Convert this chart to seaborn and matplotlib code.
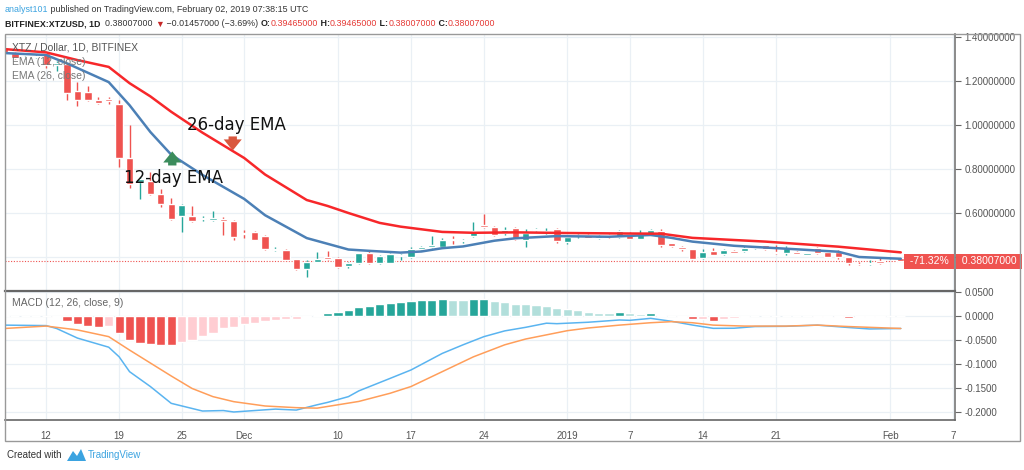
import numpy as np
import pandas as pd
import matplotlib
matplotlib.use("Agg")
import matplotlib.pyplot as plt
import matplotlib.transforms as mtransforms
from matplotlib.patches import Rectangle, Polygon
import seaborn as sns

# daily candles XTZ/USD, 2018-11-08 .. 2019-02-02
start = pd.Timestamp("2018-11-08")
days = pd.date_range(start, "2019-02-02", freq="D")

opens = [1.35, 1.326, 1.304, 1.308, 1.326, 1.272, 1.276, 1.155, 1.149, 1.114, 1.12, 1.095, 0.849, 0.742, 0.747, 0.685,
         0.64, 0.588, 0.588, 0.572, 0.566, 0.571, 0.564,
         0.509, 0.514, 0.497, 0.434, 0.432, 0.39, 0.345, 0.379, 0.40, 0.397, 0.36, 0.373, 0.418, 0.373, 0.373, 0.403,
         0.40, 0.437, 0.446, 0.445, 0.482, 0.471, 0.497, 0.547, 0.538, 0.508, 0.532, 0.478, 0.524, 0.514, 0.526,
         0.466, 0.495, 0.50, 0.487, 0.501, 0.49, 0.505, 0.483, 0.496, 0.52, 0.462, 0.446, 0.435, 0.394, 0.428, 0.412,
         0.425, 0.427, 0.44, 0.453, 0.424, 0.42, 0.423, 0.41, 0.443, 0.424, 0.421, 0.398, 0.37, 0.367, 0.383,
         0.394, 0.39465]
highs = [1.36, 1.33, 1.315, 1.322, 1.33, 1.29, 1.28, 1.197, 1.179, 1.127, 1.125, 1.114, 1.0, 0.765, 0.788, 0.708,
         0.67, 0.64, 0.633, 0.586, 0.609, 0.583, 0.568,
         0.523, 0.518, 0.50, 0.445, 0.436, 0.392, 0.385, 0.424, 0.427, 0.40, 0.378, 0.42, 0.432, 0.41, 0.416, 0.413,
         0.447, 0.45, 0.497, 0.485, 0.495, 0.482, 0.558, 0.595, 0.542, 0.538, 0.537, 0.527, 0.533, 0.53, 0.53,
         0.492, 0.506, 0.505, 0.50, 0.505, 0.522, 0.512, 0.523, 0.526, 0.527, 0.465, 0.448, 0.438, 0.435, 0.44, 0.435,
         0.432, 0.45, 0.452, 0.456, 0.455, 0.45, 0.428, 0.42, 0.447, 0.428, 0.43, 0.40, 0.375, 0.386, 0.394,
         0.396, 0.39465]
lows = [1.32, 1.30, 1.30, 1.305, 1.258, 1.245, 1.114, 1.088, 1.11, 1.094, 1.095, 0.81, 0.712, 0.662, 0.684, 0.629,
        0.568, 0.512, 0.56, 0.562, 0.564, 0.50, 0.477,
        0.487, 0.475, 0.43, 0.425, 0.38, 0.34, 0.31, 0.376, 0.386, 0.35, 0.352, 0.37, 0.37, 0.366, 0.372, 0.387,
        0.395, 0.432, 0.44, 0.442, 0.46, 0.462, 0.49, 0.53, 0.497, 0.50, 0.478, 0.444, 0.52, 0.505, 0.465,
        0.46, 0.485, 0.485, 0.483, 0.487, 0.488, 0.48, 0.48, 0.494, 0.447, 0.447, 0.425, 0.386, 0.39, 0.408, 0.41,
        0.416, 0.424, 0.438, 0.434, 0.415, 0.41, 0.412, 0.408, 0.415, 0.398, 0.392, 0.364, 0.362, 0.365, 0.37,
        0.392, 0.38007]
closes = [1.327, 1.306, 1.308, 1.312, 1.273, 1.282, 1.144, 1.114, 1.114, 1.099, 1.11, 0.849, 0.732, 0.755, 0.686,
          0.64, 0.571, 0.636, 0.564, 0.577, 0.579, 0.565, 0.49,
          0.503, 0.478, 0.436, 0.438, 0.387, 0.345, 0.376, 0.39, 0.391, 0.354, 0.372, 0.418, 0.373, 0.405, 0.413,
          0.407, 0.435, 0.447, 0.454, 0.477, 0.478, 0.475, 0.52, 0.537, 0.50, 0.523, 0.48, 0.511, 0.528, 0.52, 0.474,
          0.49, 0.502, 0.488, 0.495, 0.49, 0.519, 0.482, 0.504, 0.523, 0.455, 0.45, 0.436, 0.391, 0.424, 0.41, 0.432,
          0.42, 0.44, 0.45, 0.436, 0.418, 0.44, 0.414, 0.417, 0.418, 0.40, 0.40, 0.374, 0.367, 0.374, 0.372,
          0.3947, 0.38007]

# EMA lines (sampled points)
ema12_dates = ["2018-11-08", "2018-11-12", "2018-11-14", "2018-11-18", "2018-11-20", "2018-11-22", "2018-11-24",
               "2018-11-27", "2018-12-01", "2018-12-03", "2018-12-07", "2018-12-09", "2018-12-11", "2018-12-13",
               "2018-12-16", "2018-12-18", "2018-12-20", "2018-12-22", "2018-12-25", "2018-12-27", "2018-12-31",
               "2019-01-05", "2019-01-09", "2019-01-11", "2019-01-13", "2019-01-17", "2019-01-23", "2019-01-27",
               "2019-01-29", "2019-02-02"]
ema12 = [1.327, 1.318, 1.28, 1.195, 1.09, 0.968, 0.865, 0.773, 0.664, 0.59, 0.486, 0.46, 0.434, 0.428,
         0.42, 0.425, 0.44, 0.448, 0.474, 0.485, 0.495, 0.492, 0.50, 0.487, 0.47, 0.451, 0.435, 0.424, 0.40, 0.392]
ema26_dates = ["2018-11-08", "2018-11-12", "2018-11-15", "2018-11-18", "2018-11-20", "2018-11-22", "2018-11-24",
               "2018-11-27", "2018-12-01", "2018-12-03", "2018-12-07", "2018-12-09", "2018-12-11", "2018-12-14",
               "2018-12-16", "2018-12-20", "2018-12-23", "2018-12-27", "2019-01-01", "2019-01-06", "2019-01-10",
               "2019-01-13", "2019-01-20", "2019-01-27", "2019-02-02"]
ema26 = [1.345, 1.33, 1.295, 1.264, 1.19, 1.13, 1.06, 0.965, 0.85, 0.775, 0.659, 0.632, 0.60, 0.555,
         0.538, 0.514, 0.51, 0.512, 0.509, 0.507, 0.506, 0.487, 0.47, 0.447, 0.421]

# MACD (12, 26, close, 9)
macd_dates = ["2018-11-08", "2018-11-12", "2018-11-13", "2018-11-15", "2018-11-18", "2018-11-19", "2018-11-20",
              "2018-11-22", "2018-11-24", "2018-11-27", "2018-11-29", "2018-11-30", "2018-12-02", "2018-12-04",
              "2018-12-06", "2018-12-08", "2018-12-09", "2018-12-11", "2018-12-12", "2018-12-15", "2018-12-17",
              "2018-12-20", "2018-12-22", "2018-12-24", "2018-12-26", "2018-12-28", "2018-12-30", "2018-12-31",
              "2019-01-03", "2019-01-06", "2019-01-07", "2019-01-09", "2019-01-11", "2019-01-13", "2019-01-15",
              "2019-01-17", "2019-01-19", "2019-01-22", "2019-01-25", "2019-01-28", "2019-01-30", "2019-02-02"]
macd_line = [-0.019, -0.020, -0.026, -0.046, -0.065, -0.085, -0.116, -0.147, -0.182, -0.198, -0.197, -0.200,
             -0.197, -0.194, -0.196, -0.185, -0.180, -0.168, -0.156, -0.130, -0.1125, -0.078, -0.060, -0.043,
             -0.031, -0.0236, -0.015, -0.016, -0.013, -0.0083, -0.009, -0.0049, -0.011, -0.0188, -0.0257,
             -0.0255, -0.022, -0.0215, -0.019, -0.024, -0.027, -0.026]
signal_dates = ["2018-11-08", "2018-11-12", "2018-11-15", "2018-11-18", "2018-11-20", "2018-11-24", "2018-11-26",
                "2018-11-28", "2018-11-30", "2018-12-03", "2018-12-06", "2018-12-08", "2018-12-10", "2018-12-12",
                "2018-12-15", "2018-12-17", "2018-12-20", "2018-12-23", "2018-12-26", "2018-12-28", "2019-01-01",
                "2019-01-03", "2019-01-06", "2019-01-09", "2019-01-11", "2019-01-13", "2019-01-15", "2019-01-18",
                "2019-01-22", "2019-01-25", "2019-01-28", "2019-02-02"]
signal_line = [-0.026, -0.021, -0.029, -0.043, -0.071, -0.125, -0.151, -0.168, -0.1785, -0.1875, -0.191, -0.192,
               -0.185, -0.178, -0.161, -0.147, -0.116, -0.085, -0.06, -0.048, -0.0306, -0.025, -0.019, -0.014,
               -0.0118, -0.014, -0.019, -0.021, -0.021, -0.019, -0.022, -0.026]
hist = [0.0015, 0.001, 0.0005, 0.0003, -0.0005, -0.0025, -0.010, -0.017, -0.021, -0.022, -0.021, -0.036, -0.051,
        -0.056, -0.059, -0.060, -0.0605, -0.055, -0.050, -0.042, -0.035, -0.026, -0.022,
        -0.017, -0.014, -0.011, -0.008, -0.006, -0.0055, -0.002, 0.003, 0.007, 0.009, 0.0125, 0.019, 0.021, 0.024,
        0.028, 0.0285, 0.031, 0.033, 0.0335, 0.035, 0.033, 0.0325, 0.035, 0.036, 0.032, 0.030, 0.026, 0.024, 0.023,
        0.021, 0.016,
        0.014, 0.0125, 0.009, 0.007, 0.0055, 0.0075, 0.0055, 0.004, 0.0055, 0.0015, -0.0005, -0.003, -0.007,
        -0.0055, -0.0095, -0.006, -0.004, -0.0025, -0.001, -0.0005, 0.0002, 0.0003, 0.0002, -0.0005, -0.0025,
        -0.0024, -0.003, -0.0032, -0.002, -0.0015, -0.0015,
        -0.001, -0.0005]

tick_dates = ["2018-11-12", "2018-11-19", "2018-11-25", "2018-12-01", "2018-12-10", "2018-12-17", "2018-12-24",
              "2019-01-01", "2019-01-07", "2019-01-14", "2019-01-21", "2019-02-01", "2019-02-07"]
tick_labels = ["12", "19", "25", "Dec", "10", "17", "24", "2019", "7", "14", "21", "Feb", "7"]
price_ticks = [0.4, 0.6, 0.8, 1.0, 1.2, 1.4]
macd_ticks = [0.05, 0.0, -0.05, -0.10, -0.15, -0.20]
last_price = 0.38007


def to_day(ds):
    return np.array([(pd.Timestamp(s) - start).days for s in ds])


sns.set_style("white")
plt.rcParams["font.family"] = ["Liberation Sans", "DejaVu Sans"]

W, H = 1024, 470
fig = plt.figure(figsize=(W / 100, H / 100), dpi=100)


def fx(x):
    return x / W


def fy(y):
    return 1 - y / H


ax_p = fig.add_axes([fx(5), fy(290), fx(955) - fx(5), fy(34) - fy(290)])
ax_m = fig.add_axes([fx(5), fy(420), fx(955) - fx(5), fy(291) - fy(420)], sharex=ax_p)

GREEN, RED = "#26A69A", "#EF5350"
GRID = "#EAF0F5"
d = np.arange(len(days))
o, h, l, c = map(np.array, (opens, highs, lows, closes))
cols = np.where(c >= o, GREEN, RED)

# candles
ax_p.vlines(d, l, h, color=cols, lw=1, zorder=2)
ax_p.bar(d, np.maximum(np.abs(c - o), 0.0025), bottom=np.minimum(o, c), width=0.7, color=cols, zorder=3)

sns.lineplot(x=to_day(ema12_dates), y=ema12, ax=ax_p, color="#4C80B6", linewidth=1.8, zorder=4)
sns.lineplot(x=to_day(ema26_dates), y=ema26, ax=ax_p, color="#F7272A", linewidth=1.8, zorder=4)
ax_p.axhline(last_price, color=RED, lw=0.8, ls=(0, (1, 1.5)), zorder=1)

# MACD pane
hcols = []
for i, v in enumerate(hist):
    prev = hist[i - 1] if i else v
    if v >= 0:
        hcols.append("#26A69A" if v > prev else "#B2DFDB")
    else:
        hcols.append("#EF5350" if v < prev else "#FFCDD2")
ax_m.bar(d, hist, width=0.88, color=hcols, zorder=2)
sns.lineplot(x=to_day(macd_dates), y=macd_line, ax=ax_m, color="#5AB4F0", linewidth=1.1, zorder=3)
sns.lineplot(x=to_day(signal_dates), y=signal_line, ax=ax_m, color="#FF9E5A", linewidth=1.1, zorder=3)

ax_p.set_xlim(0.05, 91.2)
ax_p.set_ylim(0.25, 1.4136)
ax_m.set_ylim(-0.2167, 0.0521)

for ax in (ax_p, ax_m):
    ax.set_xticks(to_day(tick_dates))
    ax.grid(True, color=GRID, lw=0.9, zorder=0)
    ax.set_axisbelow(True)
    ax.yaxis.tick_right()
    ax.tick_params(axis="y", labelsize=7, colors="#666", labelcolor="#555", length=4, width=0.8, pad=3)
    for s in ("top", "left", "bottom"):
        ax.spines[s].set_visible(False)
    ax.spines["right"].set_color("#777")
    ax.spines["right"].set_linewidth(1.2)
    ax.set_xlabel("")
    ax.set_ylabel("")

ax_p.set_yticks(price_ticks)
# the 0.4 label sits under the last-price box, as in the original
ax_p.set_yticklabels(["" if v == 0.4 else f"{v:.8f}" for v in price_ticks])
ax_p.tick_params(axis="x", length=0, labelbottom=False)
ax_m.set_yticks(macd_ticks)
ax_m.set_yticklabels([f"{v:.4f}" for v in macd_ticks])
ax_m.set_xticklabels(tick_labels)
ax_m.tick_params(axis="x", labelsize=7, labelcolor="#555", colors="#777", length=3, pad=5)
ax_m.spines["top"].set_visible(True)
ax_m.spines["top"].set_color("#666")
ax_m.spines["top"].set_linewidth(1.6)
ax_m.spines["bottom"].set_visible(True)
ax_m.spines["bottom"].set_color("#666")
ax_m.spines["bottom"].set_linewidth(1.2)

# last price labels
trans = mtransforms.blended_transform_factory(ax_p.transAxes, ax_p.transData)
ax_p.text(1.004, last_price, " 0.38007000 ", transform=trans, color="white", size=7.5, va="center", ha="left",
          bbox=dict(boxstyle="square,pad=0.25", fc=RED, ec="none"), clip_on=False, zorder=10)
ax_p.text(0.996, last_price, " -71.32% ", transform=trans, color="white", size=7.5, va="center", ha="right",
          bbox=dict(boxstyle="square,pad=0.25", fc=RED, ec="none"), clip_on=False, zorder=10)

# annotations
ax_p.text(17.5, 1.0, "26-day EMA", size=12, va="center", ha="left", color="#111", family="DejaVu Sans", zorder=6)
ax_p.text(11.5, 0.757, "12-day EMA", size=12, va="center", ha="left", color="#111", family="DejaVu Sans", zorder=6)
ax_p.annotate("", xy=(21.9, 0.884), xytext=(21.9, 0.948),
              arrowprops=dict(arrowstyle="simple,head_width=1.3,head_length=0.8,tail_width=0.6",
                              fc="#D9573E", ec="none", mutation_scale=10, shrinkA=0, shrinkB=0), zorder=6)
ax_p.annotate("", xy=(16.1, 0.88), xytext=(16.1, 0.816),
              arrowprops=dict(arrowstyle="simple,head_width=1.3,head_length=0.8,tail_width=0.6",
                              fc="#3B8C5C", ec="none", mutation_scale=10, shrinkA=0, shrinkB=0), zorder=6)

# pane legends
fig.text(fx(12), fy(48), "XTZ / Dollar, 1D, BITFINEX", size=7.5, color="#555", va="center")
fig.text(fx(12), fy(62), "EMA (12, close)", size=7.5, color="#777", va="center")
fig.text(fx(12), fy(76), "EMA (26, close)", size=7.5, color="#777", va="center")
fig.text(fx(12), fy(303), "MACD (12, 26, close, 9)", size=7.5, color="#666", va="center")


def chain(x, y, pieces, size):
    prev = fig.text(fx(x), fy(y), pieces[0][0], color=pieces[0][1], weight=pieces[0][2], size=size, va="center")
    for txt, col, wt in pieces[1:]:
        prev = ax_p.annotate(txt, xy=(1, 0), xycoords=prev, va="bottom", ha="left", color=col, weight=wt,
                             size=size, annotation_clip=False)
    return prev


dark = "#333"
red_txt = "#E53935"
chain(5, 10, [("analyst101", "#3BA3E0", "normal"),
              (" published on TradingView.com, February 02, 2019 07:38:15 UTC", dark, "normal")], 6.4)
chain(5, 24, [("BITFINEX:XTZUSD, 1D", "#222", "bold"), ("  0.38007000 ", dark, "normal"),
              ("\u25bc", "#C62828", "normal"), (" \u22120.01457000 (\u22123.69%) ", dark, "normal"),
              ("O:", "#222", "bold"), ("0.39465000", red_txt, "normal"), (" H:", "#222", "bold"),
              ("0.39465000", red_txt, "normal"), (" L:", "#222", "bold"), ("0.38007000", red_txt, "normal"),
              (" C:", "#222", "bold"), ("0.38007000", red_txt, "normal")], 6.4)

# frame and footer
fig.add_artist(Rectangle((fx(5), fy(441)), fx(1020) - fx(5), fy(34) - fy(441), transform=fig.transFigure,
                         fill=False, ec="#999", lw=1))
fig.text(fx(7), fy(455), "Created with", size=7, color="#333", va="center")
fig.add_artist(Polygon([(fx(67), fy(461)), (fx(73), fy(451)), (fx(77), fy(456)), (fx(81), fy(449)),
                        (fx(86), fy(461))], closed=True, transform=fig.transFigure, fc="#3BA3E0", ec="none"))
fig.text(fx(88), fy(455), "TradingView", size=7, color="#3BA3E0", va="center")

fig.savefig("out.png", dpi=100)
